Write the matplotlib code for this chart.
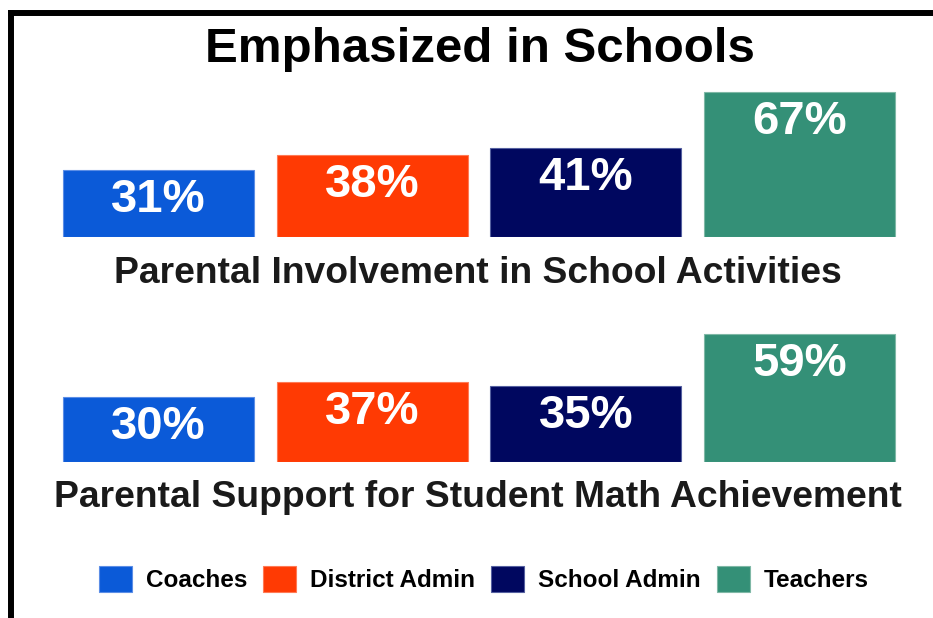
import matplotlib
matplotlib.use("Agg")
import matplotlib.pyplot as plt
from matplotlib.patches import Patch
from matplotlib.lines import Line2D

plt.rcParams["font.family"] = ["Liberation Sans", "DejaVu Sans"]
plt.rcParams["font.weight"] = "bold"

TITLE = "Emphasized in Schools"
GROUPS = ["Parental Involvement in School Activities",
          "Parental Support for Student Math Achievement"]
ROLES = ["Coaches", "District Admin", "School Admin", "Teachers"]
INVOLVEMENT = [31, 38, 41, 67]
MATH_SUPPORT = [30, 37, 35, 59]
COLORS = ["#0B5AD8", "#FF3A03", "#00075F", "#349077"]
EDGES = ["#5C8EE6", "#FF7A55", "#5560A0", "#7FB8A6"]

W, H, DPI = 933, 618, 100
fig = plt.figure(figsize=(W / DPI, H / DPI), dpi=DPI)
fig.patch.set_facecolor("white")

# frame: top + left only
fig.add_artist(Line2D([8 / W, 1], [1 - 13 / H, 1 - 13 / H], color="black",
                      lw=4.3, transform=fig.transFigure, solid_capstyle="butt"))
fig.add_artist(Line2D([11 / W, 11 / W], [0, 1 - 10 / H], color="black",
                      lw=4.3, transform=fig.transFigure, solid_capstyle="butt"))

PX_PER_PCT = 2.17
STEP = 213.7
FIRST = 158.5
x_lo = -FIRST / STEP
x_hi = (W - FIRST) / STEP


def panel(baseline_px, values, label, label_base_px):
    ax = fig.add_axes([0, (H - baseline_px) / H, 1, 70 * PX_PER_PCT / H])
    ax.set_xlim(x_lo, x_hi)
    ax.set_ylim(0, 70)
    ax.axis("off")
    xs = range(len(values))
    ax.bar(xs, values, width=191 / STEP, color=COLORS, edgecolor=EDGES,
           linewidth=0.8)
    for x, v in zip(xs, values):
        ax.annotate(f"{v}%", (x, v), xytext=(0, -30 * 0.72),
                    textcoords="offset points", ha="center", va="center",
                    color="white", fontsize=34, fontweight="bold")
    fig.text(478 / W, (H - label_base_px) / H, label, ha="center",
             va="baseline", fontsize=26.8, fontweight="bold", color="#1a1a1a")
    return ax


panel(237, INVOLVEMENT, GROUPS[0], 283)
panel(462, MATH_SUPPORT, GROUPS[1], 507)

fig.text(480 / W, (H - 62) / H, TITLE, ha="center", va="baseline",
         fontsize=35.5, fontweight="bold", color="black")

handles = [Patch(facecolor=c, edgecolor=e, linewidth=0.8, label=r)
           for c, e, r in zip(COLORS, EDGES, ROLES)]
fs = 17.5
fpx = fs * DPI / 72
fig.legend(handles=handles, loc="center", bbox_to_anchor=(484 / W, (H - 579) / H),
           ncol=4, frameon=False, prop={"size": fs, "weight": "bold"},
           handlelength=33 / fpx, handleheight=32 / fpx,
           handletextpad=14 / fpx, columnspacing=16 / fpx, borderpad=0)

fig.savefig("out.png", dpi=DPI, facecolor="white")
